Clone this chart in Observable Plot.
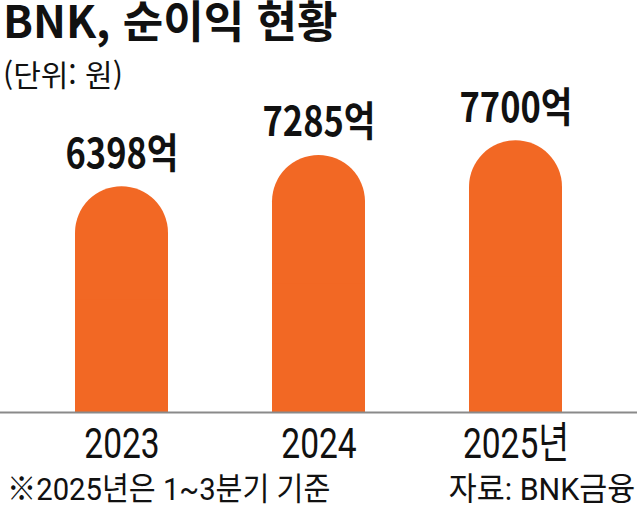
<!DOCTYPE html>
<html lang="ko">
<head>
<meta charset="utf-8">
<script src="https://cdn.jsdelivr.net/npm/d3@7"></script>
<script src="https://cdn.jsdelivr.net/npm/@observablehq/plot@0.6"></script>
<style>
  html, body { margin: 0; padding: 0; background: #fff; }
  #wrap { position: relative; width: 637px; height: 507px; overflow: hidden; font-family: "Noto Sans CJK KR", "Noto Sans", sans-serif; color: #111; }
  .t { position: absolute; white-space: nowrap; line-height: 1; }
  #title { left: 3px; top: 0px; font-size: 44px; line-height: 38px; font-weight: 700; letter-spacing: 0; }
  #subtitle { left: 3px; top: 58px; font-size: 30px; font-weight: 400; }
  #note { left: 7px; top: 473px; font-family: Roboto, "Noto Sans CJK KR", sans-serif; font-size: 32px; transform: scaleX(0.913); transform-origin: left center; }
  #source { right: 2px; top: 473px; font-family: Roboto, "Noto Sans CJK KR", sans-serif; font-size: 32px; transform: scaleX(0.95); transform-origin: right center; }
  #chart { position: absolute; left: 0; top: 92px; }
</style>
</head>
<body>
<div id="wrap">
  <div class="t" id="title"></div>
  <div class="t" id="subtitle"></div>
  <div id="chart"></div>
  <div class="t" id="note"></div>
  <div class="t" id="source"></div>
</div>
<script>
const titleText = "BNK, 순이익 현황";
const subtitleText = "(단위: 원)";
const noteText = "※2025년은 1~3분기 기준";
const sourceText = "자료: BNK금융";

const years = ["2023", "2024", "2025년"];
const profits = [6398, 7285, 7700];
const unitSuffix = "억";

document.getElementById("title").textContent = titleText;
document.getElementById("subtitle").textContent = subtitleText;
document.getElementById("note").textContent = noteText;
document.getElementById("source").textContent = sourceText;

const data = years.map((year, i) => ({year, value: profits[i], label: `${profits[i]}${unitSuffix}`}));
const orange = "#F26824";

const chart = Plot.plot({
  width: 637,
  height: 380,
  marginLeft: 0,
  marginRight: 0,
  marginTop: 20,
  marginBottom: 60,
  style: {fontFamily: "'Noto Sans CJK KR', 'Noto Sans', sans-serif", background: "#fff", overflow: "visible"},
  x: {domain: years, paddingInner: 0.527, paddingOuter: 0.38, axis: null},
  y: {domain: [0, 8500], axis: null},
  marks: [
    Plot.barY(data, {x: "year", y: "value", fill: orange, rx: 46.6, ry: 46.6}),
    Plot.barY(data, {x: "year", y1: 0, y2: d => d.value / 2, fill: orange}),
    Plot.ruleY([0], {stroke: "#8a8a8a", strokeWidth: 2}),
    Plot.text(data, {x: "year", y: "value", text: "label", lineAnchor: "bottom", textAnchor: "middle", dy: -19, fontSize: 41, fontWeight: 700, fill: "#111"}),
    Plot.text(data, {x: "year", y: () => 0, text: "year", lineAnchor: "bottom", textAnchor: "middle", dy: 45, fontSize: 43, fontWeight: 400, fill: "#111", fontFamily: "Roboto, 'Noto Sans CJK KR', sans-serif"})
  ]
});

const valueLabels = new Set(data.map(d => d.label));
const yearLabels = new Set(years);
chart.querySelectorAll("text").forEach(t => {
  const s = t.textContent;
  const sx = valueLabels.has(s) ? 0.84 : yearLabels.has(s) ? 0.78 : null;
  if (sx == null) return;
  let tr = t.getAttribute("transform");
  if (!tr) {
    const x = t.getAttribute("x") || 0;
    t.removeAttribute("x");
    tr = `translate(${x},0)`;
  }
  t.setAttribute("transform", `${tr} scale(${sx},1)`);
});

document.getElementById("chart").appendChild(chart);
</script>
</body>
</html>
